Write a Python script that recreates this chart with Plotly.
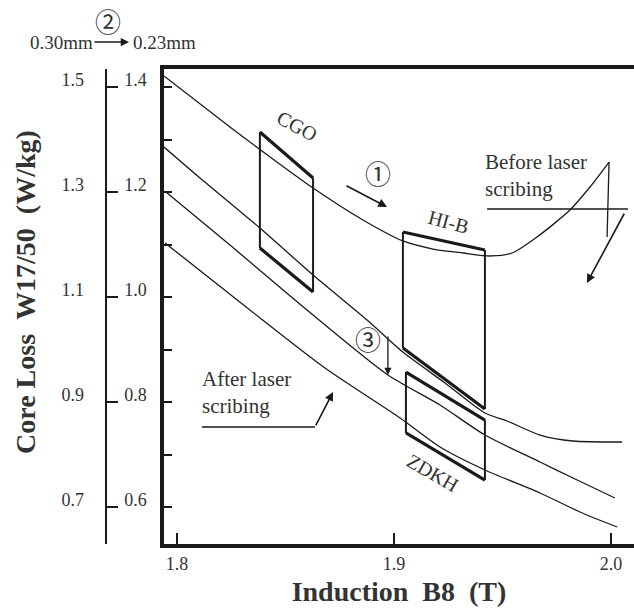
import plotly.graph_objects as go

# ---------------- data ----------------
# induction B8 (T) / core loss W17/50 (W/kg) on the 0.23 mm scale
before_x = [1.7940, 1.8244, 1.8373, 1.8627, 1.8857, 1.9041, 1.9180, 1.9318, 1.9442, 1.9544, 1.9659, 1.9811, 1.9903, 1.9991]
before_y = [1.4210, 1.3238, 1.2838, 1.2076, 1.1467, 1.1067, 1.0914, 1.0838, 1.0781, 1.0838, 1.1143, 1.1657, 1.2095, 1.2571]

curve2_x = [1.7940, 1.8106, 1.8382, 1.8627, 1.8876, 1.9041, 1.9235, 1.9419, 1.9521, 1.9673, 1.9825, 2.0051]
curve2_y = [1.2857, 1.2267, 1.1314, 1.0419, 0.9562, 0.8952, 0.8362, 0.7790, 0.7638, 0.7371, 0.7257, 0.7238]

curve3_x = [1.7949, 1.8244, 1.8599, 1.8972, 1.9212, 1.9419, 1.9673, 1.9825, 2.0018]
curve3_y = [1.2000, 1.0990, 0.9752, 0.8514, 0.7943, 0.7371, 0.6857, 0.6552, 0.6171]

after_x = [1.7945, 1.8336, 1.8682, 1.9028, 1.9212, 1.9419, 1.9673, 1.9857, 2.0028]
after_y = [1.1029, 0.9752, 0.8648, 0.7695, 0.7143, 0.6705, 0.6267, 0.5905, 0.5619]

# material regions (corners: TL, TR, BR, BL)
cgo_x = [1.8382, 1.8627, 1.8627, 1.8382]
cgo_y = [1.3143, 1.2267, 1.0095, 1.0933]
hib_x = [1.9041, 1.9419, 1.9419, 1.9041]
hib_y = [1.1238, 1.0895, 0.7867, 0.9029]
zdkh_x = [1.9055, 1.9419, 1.9419, 1.9055]
zdkh_y = [0.8571, 0.7657, 0.6514, 0.7410]

x_ticks = [1.8, 1.9, 2.0]
y_minor_ticks = [0.6, 0.7, 0.8, 0.9, 1.0, 1.1, 1.2, 1.3, 1.4]
y_ticks_023 = [0.6, 0.8, 1.0, 1.2, 1.4]
y_ticks_030 = [0.7, 0.9, 1.1, 1.3, 1.5]
scale_offset = 0.1  # 0.30 mm label = 0.23 mm label + 0.1

x_range = [1.79401, 2.01060]
y_range = [0.52952, 1.43429]

SERIF = "Liberation Serif"
CIRC = "Noto Sans CJK JP"
INK = "#1a1a1a"
TXT = "#333333"

fig = go.Figure()

def line(x, y, w=1.3, name=None, shape="spline"):
    fig.add_trace(go.Scatter(x=x, y=y, mode="lines", name=name, showlegend=False,
                             line=dict(color=INK, width=w, shape=shape, smoothing=0.7),
                             hoverinfo="skip"))

line(before_x, before_y, name="Before laser scribing")
line(curve2_x, curve2_y, name="curve 2")
line(curve3_x, curve3_y, name="curve 3")
line(after_x, after_y, name="After laser scribing")

def box(bx, by):
    # sides thin, top & bottom thick
    line([bx[1], bx[2]], [by[1], by[2]], w=2.0, shape="linear")
    line([bx[3], bx[0]], [by[3], by[0]], w=2.0, shape="linear")
    line([bx[0], bx[1]], [by[0], by[1]], w=3.2, shape="linear")
    line([bx[3], bx[2]], [by[3], by[2]], w=3.2, shape="linear")

box(cgo_x, cgo_y)
box(hib_x, hib_y)
box(zdkh_x, zdkh_y)

# leader lines
line([1.9429, 2.0078], [1.1676, 1.1676], w=1.3, shape="linear")
line([1.9991, 1.9982], [1.2571, 1.1143], w=1.3, shape="linear")
line([1.8115, 1.8636], [0.7524, 0.7524], w=1.3, shape="linear")

# carriers for the two scale axes on the left
fig.add_trace(go.Scatter(x=[None], y=[None], yaxis="y2", showlegend=False, hoverinfo="skip"))
fig.add_trace(go.Scatter(x=[None], y=[None], yaxis="y3", showlegend=False, hoverinfo="skip"))

ann = []
def arrow(tx, ty, hx, hy, w=1.6):
    ann.append(dict(x=hx, y=hy, ax=tx, ay=ty, xref="x", yref="y", axref="x", ayref="y",
                    text="", showarrow=True, arrowhead=2, arrowsize=1.1, arrowwidth=w,
                    arrowcolor=INK))

arrow(1.8774, 1.2133, 1.8968, 1.1714)          # (1)
arrow(1.8972, 0.9276, 1.8972, 0.8514, w=1.3)   # (3)
arrow(2.0065, 1.1619, 1.9889, 1.0267)          # before
arrow(1.8636, 0.7524, 1.8719, 0.8190)          # after

def txt(x, y, s, size=17, angle=0, font=SERIF, xanchor="center", xref="x", yref="y", align="center"):
    ann.append(dict(x=x, y=y, xref=xref, yref=yref, text=s, showarrow=False, textangle=angle,
                    xanchor=xanchor, yanchor="middle", align=align,
                    font=dict(family=font, size=size, color=TXT)))

txt(1.8553, 1.3257, "CGO", size=20, angle=28)
txt(1.9253, 1.1429, "HI-B", size=20, angle=15)
txt(1.9180, 0.6648, "ZDKH", size=20, angle=30)
txt(1.8926, 1.2381, "①", size=26, font=CIRC)
txt(1.8880, 0.9219, "③", size=26, font=CIRC)
txt(1.9410, 1.2305, "Before laser<br>scribing", size=21, xanchor="left", align="left")
txt(1.8106, 0.8190, "After laser<br>scribing", size=21, xanchor="left", align="left")

# scale change header
txt(108 / 634, 1 - 20 / 610, "②", size=26, font=CIRC, xref="paper", yref="paper")
txt(61 / 634, 1 - 42 / 610, "0.30mm", size=19, xref="paper", yref="paper")
txt(164 / 634, 1 - 42 / 610, "0.23mm", size=19, xref="paper", yref="paper")
ann.append(dict(x=129 / 634, y=1 - 42 / 610, xref="paper", yref="paper", ax=-36, ay=0,
                text="", showarrow=True, arrowhead=2, arrowsize=1.1, arrowwidth=1.5, arrowcolor=INK))

# y title
txt(25 / 634, 1 - 292 / 610, "<b>Core Loss\u00a0\u00a0W17/50\u00a0\u00a0(W/kg)</b>", size=28, angle=-90,
    xref="paper", yref="paper")

axis_pos = 106 / 634

fig.update_layout(
    width=634, height=610,
    margin=dict(l=0, r=0, t=0, b=0),
    paper_bgcolor="white", plot_bgcolor="white",
    showlegend=False,
    annotations=ann,
    xaxis=dict(domain=[164 / 634, 1.0], range=x_range, showgrid=False, zeroline=False,
               showline=True, linewidth=4, linecolor=INK, mirror=True,
               ticks="inside", tickvals=x_ticks, ticklen=11, tickwidth=2, tickcolor=INK,
               tickformat=".1f", tickfont=dict(family=SERIF, size=18, color=TXT),
               title=dict(text="<b>Induction\u00a0\u00a0B8\u00a0\u00a0(T)</b>",
                          font=dict(family=SERIF, size=28, color=TXT), standoff=10)),
    yaxis=dict(domain=[1 - 544 / 610, 1 - 69 / 610], range=y_range, showgrid=False, zeroline=False,
               showline=True, linewidth=4, linecolor=INK, mirror=False,
               ticks="inside", tickvals=y_minor_ticks, ticklen=8, tickwidth=2, tickcolor=INK,
               showticklabels=False),
    yaxis2=dict(overlaying="y", anchor="free", position=axis_pos, side="right", range=y_range,
                showgrid=False, zeroline=False, showline=True, linewidth=1.5, linecolor=INK,
                ticks="outside", ticklen=11, tickwidth=1.5, tickcolor=INK, tickvals=y_ticks_023,
                tickformat=".1f", ticklabelshift=-7, ticklabelstandoff=3,
                tickfont=dict(family=SERIF, size=18, color=TXT)),
    yaxis3=dict(overlaying="y", anchor="free", position=axis_pos, side="left",
                range=[y_range[0] + scale_offset, y_range[1] + scale_offset],
                showgrid=False, zeroline=False, showline=False, ticks="", tickvals=y_ticks_030,
                tickformat=".1f", ticklabelshift=-7, ticklabelstandoff=22,
                tickfont=dict(family=SERIF, size=18, color=TXT)),
)

fig.write_html("out.html")
